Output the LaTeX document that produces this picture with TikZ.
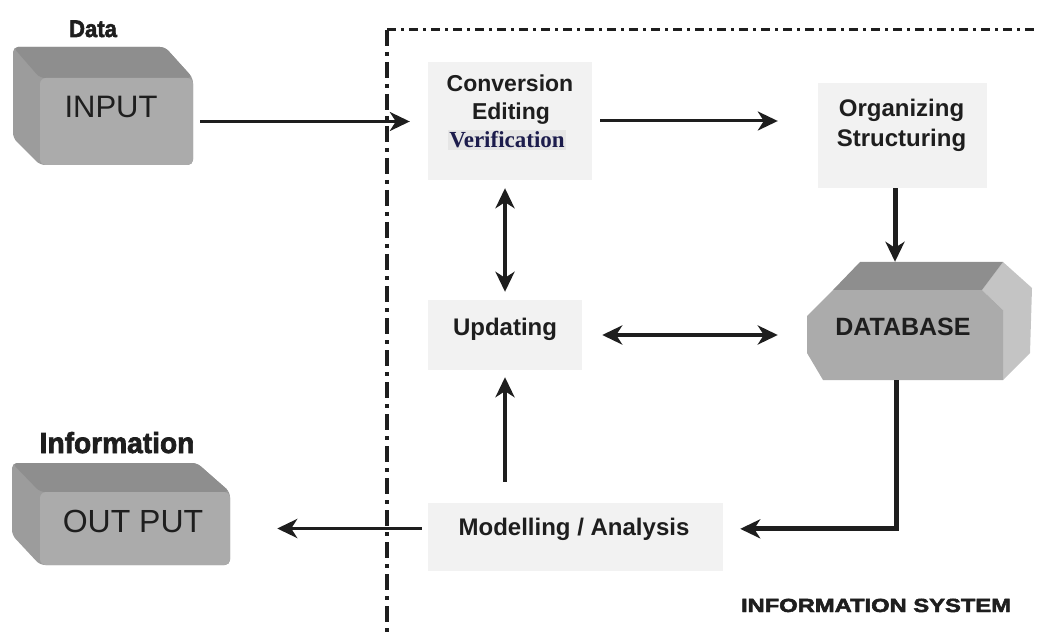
\documentclass[tikz,border=0pt]{standalone}
\usepackage{fontspec}
\setmainfont{Liberation Sans}
\newfontfamily\tms{Liberation Serif}
\newfontface\heavy[FakeBold=2.5]{Liberation Sans Bold}
\usetikzlibrary{arrows.meta}
\definecolor{boxfill}{HTML}{F2F2F2}
\definecolor{frontc}{HTML}{ABABAB}
\definecolor{topc}{HTML}{8E8E8E}
\definecolor{sidec}{HTML}{9C9C9C}
\definecolor{dbside}{HTML}{C4C4C4}
\definecolor{ink}{HTML}{1E1E1E}
\definecolor{navy}{HTML}{1C1C4C}
\definecolor{hilite}{HTML}{E6E6E6}
\begin{document}
\begin{tikzpicture}[x=1pt,y=-1pt,
  >={Stealth[length=20pt,width=19pt,inset=6pt]},
  lbox/.style={fill=boxfill, draw=none, inner sep=0pt},
  frontbox/.style={fill=frontc, draw=none, rounded corners=6pt, inner sep=0pt},
  arr/.style={line width=3.5pt, draw=ink, ->},
  darr/.style={line width=3.5pt, draw=ink, <->},
  txt/.style={anchor=base, inner sep=0pt, text=ink, font=\fontsize{24}{28}\selectfont\bfseries},
  big/.style={anchor=base, inner sep=0pt, text=ink, font=\fontsize{31}{36}\selectfont},
  hv/.style={anchor=base, inner sep=0pt, text=ink},
  vbnd/.style={line width=4pt, draw=ink, dash pattern=on 16pt off 6pt on 4pt off 6pt},
  hbnd/.style={line width=3pt, draw=ink, dash pattern=on 9pt off 5pt on 3pt off 5pt}
]
\useasboundingbox (0,0) rectangle (1038,636);

% boundary of the information system
\draw[vbnd] (387,30) -- (387,636);
\draw[hbnd] (387,30) -- (1038,30);

% INPUT 3D box
\fill[sidec, rounded corners=5pt] (13,47) -- (165,47) -- (193,78) -- (193,165) -- (40,165) -- (13,138) -- cycle;
\fill[topc, rounded corners=5pt] (13,47) -- (165,47) -- (193,78) -- (40,78) -- cycle;
\node[frontbox, minimum width=153pt, minimum height=87pt] (inputf) at (116.5,121.5) {};
\node[big] (inputt) at (111,118) {INPUT};
\node[hv, font=\fontsize{24}{26}\heavy] (data) at (93,37) {\scalebox{0.92}[1]{Data}};

% OUT PUT 3D box
\fill[sidec, rounded corners=5pt] (12,463) -- (197,463) -- (230,492) -- (230,565) -- (40,565) -- (12,535) -- cycle;
\fill[topc, rounded corners=5pt] (12,463) -- (197,463) -- (230,492) -- (40,492) -- cycle;
\node[frontbox, minimum width=190pt, minimum height=73pt] (outf) at (135,528.5) {};
\node[big, font=\fontsize{32}{36}\selectfont] (outt) at (133,532) {OUT PUT};
\node[hv, font=\fontsize{29}{32}\heavy] (info) at (117,453) {\scalebox{0.97}[1]{Information}};

% light boxes
\node[lbox, minimum width=164pt, minimum height=118pt] (conv) at (510,121) {};
\node[txt, font=\fontsize{23}{27}\selectfont\bfseries] (conv1) at (510,92) {Conversion};
\node[txt, font=\fontsize{23}{27}\selectfont\bfseries] (conv2) at (511,120) {Editing};
\node[anchor=base, inner sep=1.5pt, fill=hilite, text=navy, font=\fontsize{23}{27}\tms\bfseries] (conv3) at (507,148) {Verification};

\node[lbox, minimum width=169pt, minimum height=105pt] (org) at (902.5,135.5) {};
\node[txt] (org1) at (901.5,117) {Organizing};
\node[txt] (org2) at (901.5,147) {Structuring};

\node[lbox, minimum width=154pt, minimum height=70pt] (upd) at (505,335) {};
\node[txt] (updt) at (505,335) {Updating};

\node[lbox, minimum width=295pt, minimum height=68pt] (model) at (575.5,537) {};
\node[txt] (modelt) at (574,535) {Modelling / Analysis};

% DATABASE
\fill[dbside] (982,290) -- (1003,262) -- (1032,288) -- (1030,353) -- (1003,380) -- (1003,310) -- cycle;
\fill[topc] (833,290) -- (860,262) -- (1003,262) -- (982,290) -- cycle;
\fill[frontc] (807,316) -- (833,290) -- (982,290) -- (1003,310) -- (1003,380) -- (823,380) -- (807,353) -- cycle;
\node[inner sep=0pt, minimum width=225pt, minimum height=118pt] (db) at (919.5,321) {};
\node[txt, font=\fontsize{25}{28}\selectfont\bfseries] (dbt) at (903,335) {DATABASE};

% INFORMATION SYSTEM
\node[hv, font=\fontsize{19}{20}\heavy] (isys) at (876,612) {\scalebox{1.25}[1]{INFORMATION SYSTEM}};

% connectors
\draw[arr, line width=3pt, shorten <=7pt, shorten >=18pt] (inputf.east) -- (inputf.east -| conv.west);
\draw[arr, line width=3pt, shorten <=8pt, shorten >=40pt] (conv.east) -- (conv.east -| org.west);
\draw[arr, line width=5pt] ([xshift=-7.5pt]org.south) -- ([xshift=-7.5pt]org.south |- db.north);
\draw[darr, shorten <=8pt, shorten >=8pt] (conv.south -| upd.north) -- (upd.north);
\draw[darr, shorten <=20pt, shorten >=29pt] (upd.east) -- (upd.east -| db.west);
\draw[arr, line width=5pt, shorten >=17pt] ([xshift=-23.5pt]db.south) |- (model.east |- modelt.center);
\draw[arr, shorten <=21pt, shorten >=7pt] (model.north -| upd.south) -- (upd.south);
\draw[arr, shorten <=6pt, shorten >=47pt] (model.west |- outf.east) -- (outf.east);
\end{tikzpicture}
\end{document}
